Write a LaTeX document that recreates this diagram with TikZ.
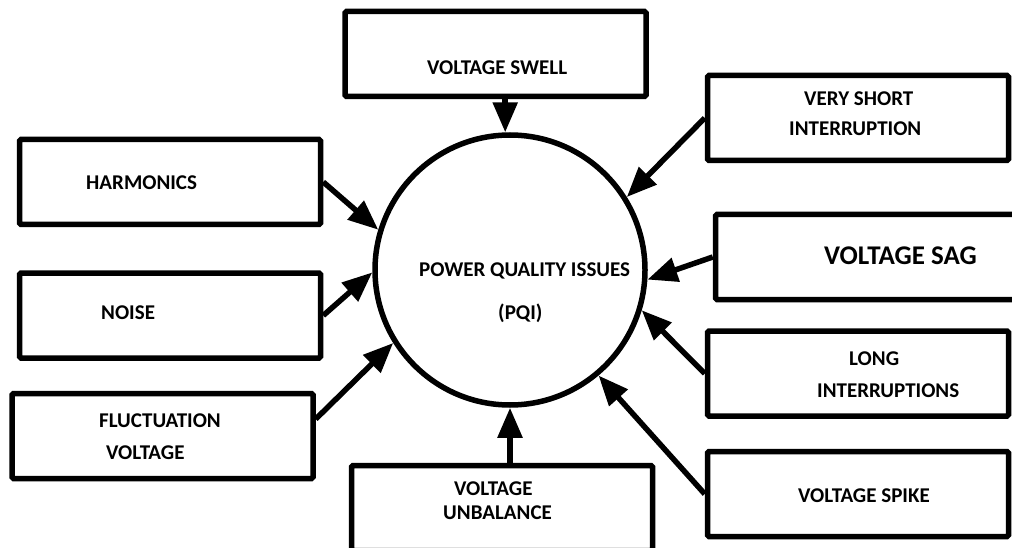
\documentclass[tikz,border=0pt]{standalone}
\usepackage{fontspec}
\setmainfont{Carlito}
\usetikzlibrary{arrows.meta,positioning,calc}
\definecolor{Ink}{HTML}{000000}

\begin{document}
\begin{tikzpicture}[x=1pt,y=-1pt,
  issuebox/.style={draw=Ink,line width=5.5pt,rounded corners=1.5pt,minimum width=301pt,minimum height=85pt,inner sep=0pt},
  lbl/.style={anchor=west,font=\fontsize{21}{23}\selectfont\bfseries,text=Ink,inner sep=0pt},
  feed/.style={draw=Ink,line width=5.5pt,-{Triangle[length=30pt,width=24pt]}}]
\useasboundingbox (0,0) rectangle (1012,548);
\clip (0,0) rectangle (1012,548);
% centre
\node[circle,draw=Ink,line width=5.5pt,minimum size=270pt,inner sep=0pt] (pqi) at (510,270) {};
\node[lbl] (t-pqi) at (419,271) {POWER QUALITY ISSUES};
\node[lbl] (t-pqi2) at (498,313) {(PQI)};
% boxes
\node[issuebox] (swell) at (495.5,54) {};
\node[issuebox] (vshort) at (858,118) {};
\node[issuebox] (sag) at (866,257) {};
\node[issuebox] (long) at (858,373.5) {};
\node[issuebox] (spike) at (858,494) {};
\node[issuebox] (unbal) at (502,508) {};
\node[issuebox] (harm) at (170,182) {};
\node[issuebox] (noise) at (170,315.5) {};
\node[issuebox] (fluct) at (162.5,436) {};
% box texts
\node[lbl] (t-swell) at (427,68) {VOLTAGE SWELL};
\node[lbl] (t-vshort) at (804,99) {VERY SHORT};
\node[lbl] (t-vshort2) at (789,129) {INTERRUPTION};
\node[lbl,font=\fontsize{27}{29}\selectfont\bfseries] (t-sag) at (824,256) {VOLTAGE SAG};
\node[lbl] (t-long) at (849,359) {LONG};
\node[lbl] (t-long2) at (817,391) {INTERRUPTIONS};
\node[lbl] (t-spike) at (798,496) {VOLTAGE SPIKE};
\node[lbl] (t-unbal) at (454,489) {VOLTAGE};
\node[lbl] (t-unbal2) at (443,513) {UNBALANCE};
\node[lbl] (t-harm) at (86,183) {HARMONICS};
\node[lbl] (t-noise) at (101,313) {NOISE};
\node[lbl] (t-fluct) at (99,421) {FLUCTUATION};
\node[lbl] (t-fluct2) at (106,453) {VOLTAGE};
% arrows into the circle
\draw[feed] (harm.east) -- (pqi.163);
\draw[feed] (noise.east) -- (pqi.181);
\draw[feed] ($(fluct.east)+(0,-17)$) -- (pqi.212);
\draw[feed] (unbal.north -| pqi.south) -- (pqi.south);
\draw[feed] (spike.west) -- (pqi.310);
\draw[feed] (long.west) -- (pqi.343);
\draw[feed] (sag.west) -- (pqi.356);
\draw[feed] (vshort.west) -- (pqi.32);
\draw[feed] (swell.south -| pqi.92) -- (pqi.92);
\end{tikzpicture}
\end{document}
